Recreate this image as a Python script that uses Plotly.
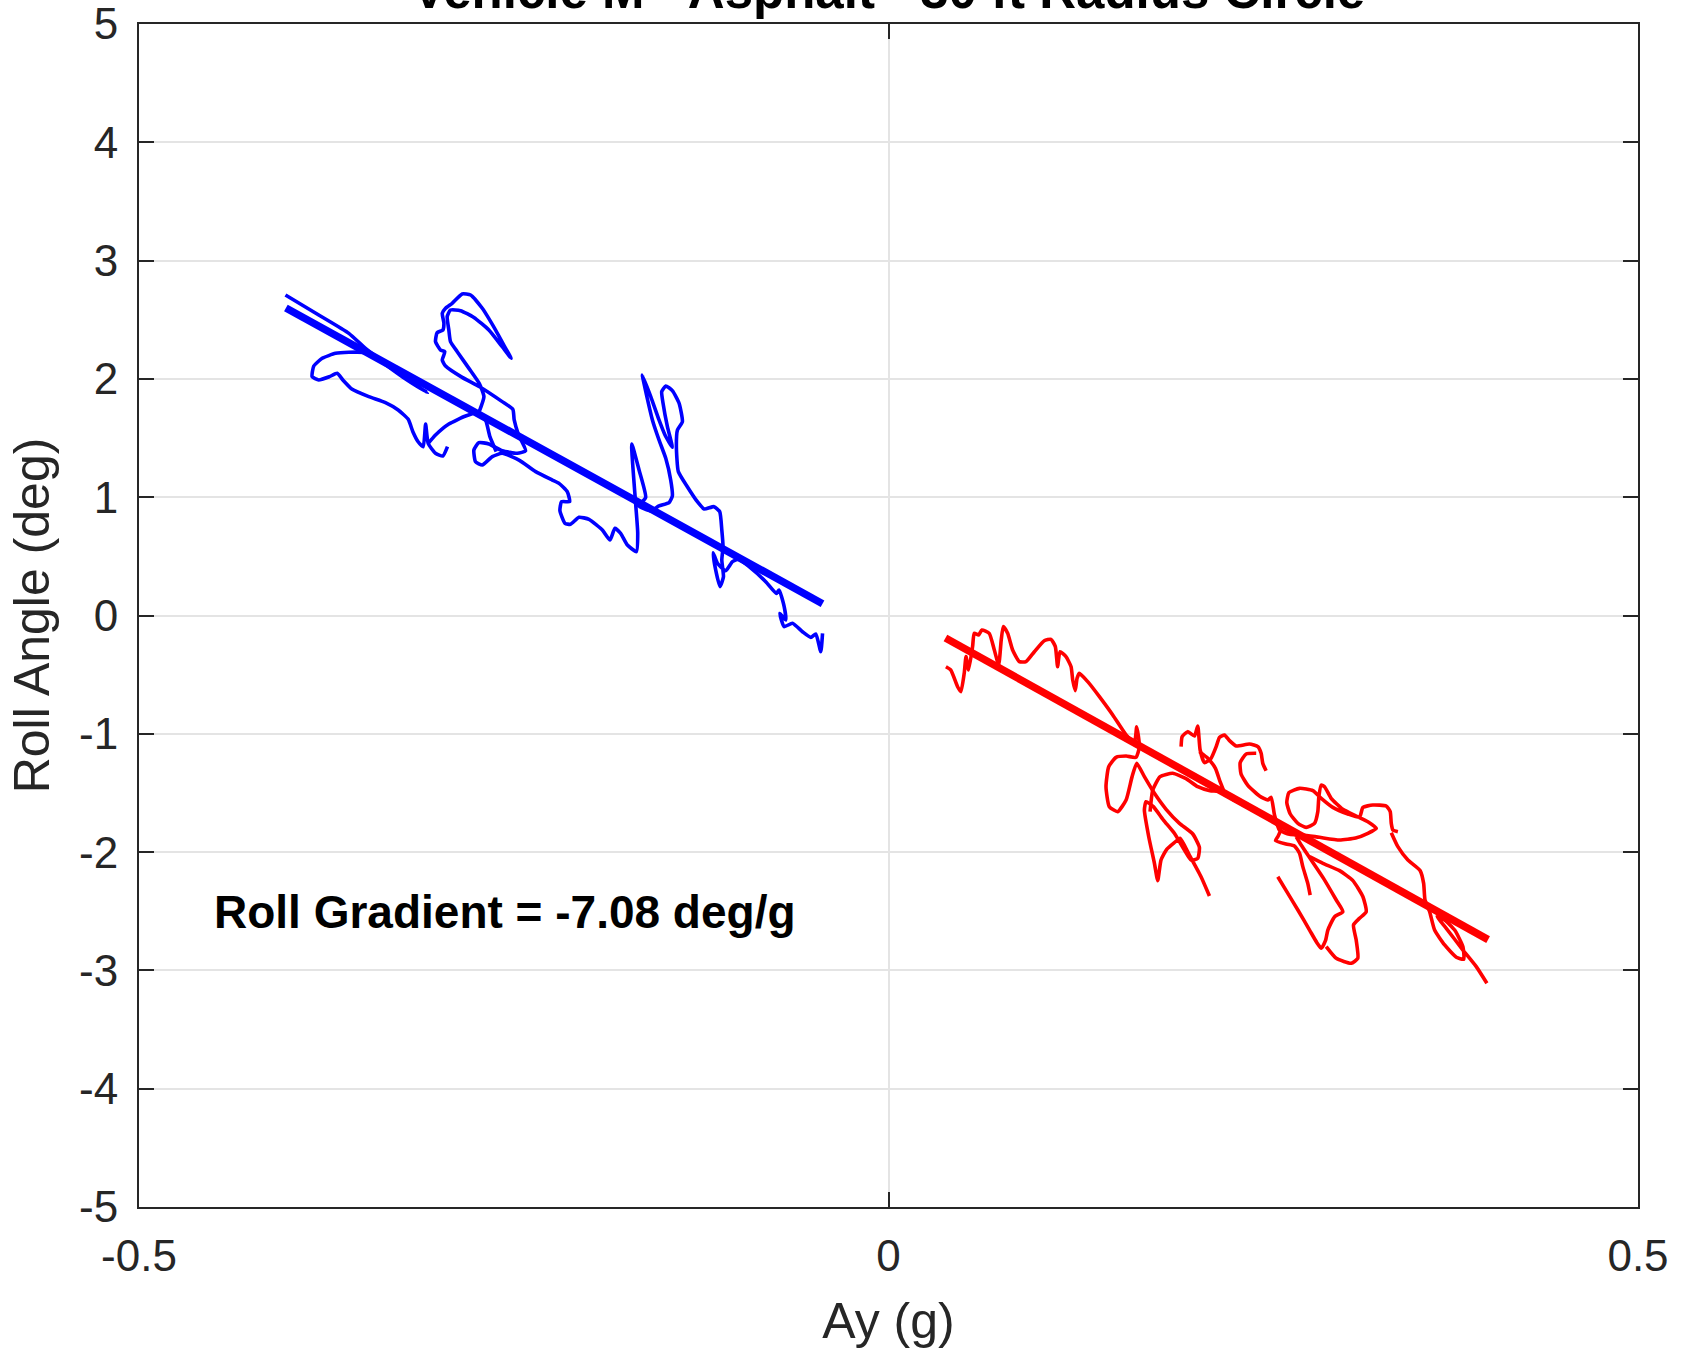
import numpy as np
import plotly.graph_objects as go

nan = np.nan

# ---------------- data ----------------
title_text = "Vehicle M - Asphalt - 30 ft Radius Circle"
x_label = "Ay (g)"
y_label = "Roll Angle (deg)"
gradient_text = "Roll Gradient = -7.08 deg/g"

x_tickvals = [-0.5, 0, 0.5]
x_ticktext = ["-0.5", "0", "0.5"]
y_tickvals = [5, 4, 3, 2, 1, 0, -1, -2, -3, -4, -5]
y_ticktext = ["5", "4", "3", "2", "1", "0", "-1", "-2", "-3", "-4", "-5"]

# left turn (negative Ay) measured trace
blue_ay = [
    -0.4023, -0.3801, -0.3600, -0.3489, -0.3356, -0.3200, -0.3075, -0.3244, -0.3400, -0.3489,
    -0.3600, -0.3689, -0.3778, -0.3834, -0.3845, -0.3801, -0.3729, -0.3678, -0.3640, -0.3578,
    -0.3467, -0.3356, -0.3271, -0.3204, -0.3173, -0.3138, -0.3104, -0.3088, -0.3071, -0.3022,
    -0.2973, -0.2942, nan,
    -0.3071, -0.3022, -0.2933, -0.2821, -0.2733, -0.2688, -0.2659, -0.2617, nan,
    -0.2733, -0.2699, -0.2728, -0.2799, -0.2877, -0.2922, -0.2933, -0.2944, -0.2922, -0.2855,
    -0.2766, -0.2666, -0.2577, -0.2517, -0.2554, -0.2621, -0.2710, -0.2788, -0.2844, -0.2911,
    -0.2955, -0.2977, -0.2966, -0.2973, -0.3011, -0.3022, -0.2988, -0.2960, -0.2977, -0.2955,
    -0.2844, -0.2728, -0.2577, -0.2506, -0.2497, -0.2470, -0.2421, -0.2477, -0.2577, -0.2666,
    -0.2733, -0.2766, -0.2755, -0.2710, -0.2643, -0.2577, -0.2465, -0.2354, -0.2243, -0.2198,
    -0.2143, -0.2127, -0.2181, -0.2192, -0.2158, -0.2121, -0.2065, -0.1998, -0.1909, -0.1858,
    -0.1825, -0.1787, -0.1742, -0.1682, -0.1673, -0.1687, -0.1713, -0.1664, -0.1620, -0.1664,
    -0.1586, -0.1531, -0.1464, -0.1442, -0.1453, -0.1486, -0.1531, -0.1575, -0.1642, -0.1586,
    -0.1531, -0.1491, -0.1442, -0.1475, -0.1504, -0.1513, -0.1486, -0.1442, -0.1397, -0.1375,
    -0.1408, -0.1415, -0.1402, -0.1342, -0.1275, -0.1230, -0.1164, -0.1126, -0.1112, -0.1104,
    -0.1112, -0.1101, -0.1124, -0.1153, -0.1170, -0.1141, -0.1086, -0.1041, -0.1001, -0.0930,
    -0.0819, -0.0748, -0.0730, -0.0696, -0.0685, -0.0725, -0.0696, -0.0641, -0.0574, -0.0518,
    -0.0485, -0.0452, -0.0440,
]
blue_roll = [
    2.709, 2.540, 2.385, 2.258, 2.132, 1.996, 1.884, 2.019, 2.160, 2.222,
    2.225, 2.216, 2.174, 2.109, 2.019, 1.991, 2.019, 2.047, 1.991, 1.912,
    1.850, 1.799, 1.737, 1.658, 1.554, 1.469, 1.427, 1.619, 1.455, 1.371,
    1.348, 1.427, nan,
    1.455, 1.526, 1.619, 1.686, 1.715, 1.653, 1.512, 1.385, nan,
    1.715, 1.850, 1.957, 2.089, 2.230, 2.315, 2.413, 2.526, 2.582, 2.577,
    2.520, 2.413, 2.272, 2.174, 2.258, 2.413, 2.597, 2.709, 2.718, 2.639,
    2.597, 2.554, 2.470, 2.413, 2.391, 2.315, 2.244, 2.230, 2.160, 2.109,
    2.013, 1.934, 1.808, 1.743, 1.653, 1.534, 1.393, 1.371, 1.393, 1.450,
    1.461, 1.399, 1.300, 1.272, 1.343, 1.371, 1.314, 1.216, 1.145, 1.117,
    1.047, 0.962, 0.962, 0.886, 0.779, 0.771, 0.830, 0.813, 0.723, 0.638,
    0.737, 0.695, 0.596, 0.540, 0.695, 0.948, 1.450, 1.230, 0.999, 0.926,
    0.886, 0.926, 0.954, 1.010, 1.145, 1.329, 1.484, 1.653, 2.033, 1.850,
    1.653, 1.526, 1.422, 1.596, 1.794, 1.892, 1.940, 1.901, 1.794, 1.638,
    1.568, 1.427, 1.216, 1.089, 0.962, 0.900, 0.920, 0.878, 0.723, 0.582,
    0.469, 0.328, 0.244, 0.385, 0.531, 0.441, 0.379, 0.455, 0.475, 0.413,
    0.286, 0.187, 0.216, 0.075, -0.038, 0.018, -0.094, -0.066, -0.137, -0.185,
    -0.156, -0.306, -0.151,
]

# right turn (positive Ay) measured trace
red_ay = [
    0.0383, 0.0416, 0.0461, 0.0483, 0.0505, 0.0517, 0.0534, 0.0561, 0.0572, 0.0601,
    0.0623, 0.0672, 0.0706, 0.0735, 0.0752, 0.0766, 0.0795, 0.0828, 0.0873, 0.0917,
    0.0973, 0.1039, 0.1084, 0.1113, 0.1128, 0.1144, 0.1184, 0.1218, 0.1229, 0.1246,
    0.1258, 0.1273, 0.1329, 0.1407, 0.1496, 0.1585, 0.1640, 0.1656, 0.1674, 0.1651,
    0.1585, 0.1518, 0.1469, 0.1451, 0.1473, 0.1529, 0.1585, 0.1625, 0.1656, 0.1707,
    0.1774, 0.1852, 0.1941, 0.2030, 0.2074, 0.2063, 0.2019, 0.1974, 0.1907, 0.1834,
    0.1767, 0.1718, 0.1707, 0.1736, 0.1774, 0.1796, 0.1818, 0.1856, 0.1907, 0.1945,
    0.2007, 0.2085, 0.2141, nan,
    0.1745, 0.1763, 0.1812, 0.1896, 0.1985, 0.2063, 0.2145, 0.2208, 0.2297, 0.2430,
    0.2553, 0.2619, 0.2597, 0.2582, 0.2653, 0.2708, 0.2742, 0.2764, 0.2797, 0.2813, nan,
    0.1952, 0.1959, 0.1996, 0.2041, 0.2063, 0.2079, 0.2108, 0.2152, 0.2186, 0.2208,
    0.2241, 0.2275, 0.2319, 0.2408, 0.2464, 0.2486, 0.2497, 0.2519, nan,
    0.2074, 0.2130, 0.2181, 0.2212, 0.2234, nan,
    0.2453, 0.2386, 0.2346, 0.2352, 0.2397, 0.2475, 0.2530, 0.2553, 0.2575, 0.2608,
    0.2675, 0.2764, 0.2875, 0.3009, 0.3116, 0.3198, 0.3254, 0.3198, 0.3120, 0.3031,
    0.2953, 0.2909, 0.2887, 0.2871, 0.2864, 0.2842, 0.2786, 0.2731, 0.2680, 0.2657,
    0.2671, 0.2742, 0.2831, 0.2887, 0.2964, 0.3065, 0.3142, 0.3165, 0.3231, 0.3320,
    0.3347, 0.3354, 0.3365, 0.3398, nan,
    0.3354, 0.3398, 0.3465, 0.3547, 0.3570, 0.3579, 0.3610, 0.3643, 0.3710, 0.3788,
    0.3837, 0.3832, 0.3777, 0.3710, 0.3659, 0.3721, 0.3832, 0.3921, 0.3992, nan,
    0.2597, 0.2657, 0.2731, 0.2809, 0.2858, 0.2887, 0.2915, 0.2931, 0.2976, 0.3031,
    0.2987, 0.2902, 0.2820, 0.2753, 0.2720, nan,
    0.2809, 0.2898, 0.3009, 0.3098, 0.3165, 0.3187, 0.3142, 0.3102, 0.3120, 0.3131,
    0.3087, 0.2987, 0.2920,
]
red_roll = [
    -0.433, -0.461, -0.602, -0.644, -0.489, -0.348, -0.461, -0.263, -0.151, -0.165,
    -0.123, -0.151, -0.292, -0.418, -0.207, -0.094, -0.151, -0.292, -0.390, -0.390,
    -0.306, -0.213, -0.201, -0.263, -0.433, -0.306, -0.348, -0.433, -0.545, -0.635,
    -0.531, -0.489, -0.559, -0.686, -0.841, -1.010, -1.081, -0.940, -1.109, -1.199,
    -1.188, -1.199, -1.278, -1.447, -1.616, -1.658, -1.560, -1.362, -1.250, -1.362,
    -1.503, -1.638, -1.757, -1.847, -1.960, -2.053, -2.067, -1.982, -1.841, -1.729,
    -1.616, -1.574, -1.644, -1.870, -2.095, -2.241, -2.067, -1.977, -1.920, -1.884,
    -2.025, -2.208, -2.371, nan,
    -1.658, -1.475, -1.362, -1.334, -1.379, -1.447, -1.481, -1.489, -1.554, -1.644,
    -1.729, -1.799, -1.870, -1.903, -1.932, -1.948, -2.010, -2.123, -2.264, -2.363, nan,
    -1.109, -1.024, -0.982, -1.019, -0.934, -1.137, -1.244, -1.207, -1.109, -1.030,
    -1.010, -1.058, -1.103, -1.086, -1.109, -1.165, -1.250, -1.312, nan,
    -1.151, -1.207, -1.292, -1.405, -1.475, nan,
    -1.165, -1.171, -1.244, -1.340, -1.436, -1.526, -1.560, -1.537, -1.686, -1.813,
    -1.850, -1.855, -1.875, -1.898, -1.881, -1.841, -1.799, -1.743, -1.695, -1.638,
    -1.545, -1.447, -1.433, -1.531, -1.658, -1.757, -1.791, -1.757, -1.678, -1.582,
    -1.498, -1.461, -1.481, -1.545, -1.622, -1.678, -1.706, -1.622, -1.602, -1.610,
    -1.658, -1.757, -1.813, -1.827, nan,
    -1.836, -1.954, -2.067, -2.157, -2.264, -2.405, -2.504, -2.659, -2.785, -2.889,
    -2.906, -2.799, -2.659, -2.574, -2.546, -2.644, -2.828, -2.968, -3.109, nan,
    -2.208, -2.334, -2.489, -2.659, -2.766, -2.813, -2.749, -2.659, -2.546, -2.504,
    -2.405, -2.222, -2.067, -1.940, -1.870, nan,
    -2.039, -2.095, -2.157, -2.241, -2.377, -2.504, -2.560, -2.616, -2.743, -2.898,
    -2.940, -2.898, -2.799,
]

# linear fits
blue_fit_ay = [-0.402, -0.044]
blue_fit_roll = [2.60, 0.10]
red_fit_ay = [0.038, 0.400]
red_fit_roll = [-0.19, -2.74]

gradient_pos = (-0.451, -2.51)

# ---------------- figure ----------------
FONT = "Liberation Sans, Arial, Helvetica, sans-serif"
AX = "#262626"

fig = go.Figure()
fig.add_trace(go.Scatter(x=blue_ay, y=blue_roll, mode="lines",
                         line=dict(color="#0000FF", width=3.6, shape="spline", smoothing=0.5),
                         connectgaps=False, hoverinfo="skip"))
fig.add_trace(go.Scatter(x=red_ay, y=red_roll, mode="lines",
                         line=dict(color="#FF0000", width=3.6, shape="spline", smoothing=0.5),
                         connectgaps=False, hoverinfo="skip"))
fig.add_trace(go.Scatter(x=blue_fit_ay, y=blue_fit_roll, mode="lines",
                         line=dict(color="#0000FF", width=7.5)))
fig.add_trace(go.Scatter(x=red_fit_ay, y=red_fit_roll, mode="lines",
                         line=dict(color="#FF0000", width=7.5)))

axis_common = dict(
    showgrid=True, gridcolor="#e4e4e4", gridwidth=1.5,
    zeroline=False,
    showline=True, linecolor=AX, linewidth=2, mirror="ticks",
    ticks="inside", ticklen=15, tickwidth=1.5, tickcolor=AX,
    tickfont=dict(family=FONT, size=44, color=AX),
    ticklabeloverflow="allow",
    automargin=False,
)

fig.update_layout(
    width=1686, height=1354,
    margin=dict(l=139, r=48, t=24, b=147),
    paper_bgcolor="white", plot_bgcolor="white",
    showlegend=False,
    xaxis=dict(range=[-0.5, 0.5], tickmode="array", tickvals=x_tickvals, ticktext=x_ticktext,
               ticklabelstandoff=9,
               title=dict(text=x_label, font=dict(family=FONT, size=50, color=AX), standoff=24),
               **axis_common),
    yaxis=dict(range=[-5, 5], tickmode="array", tickvals=y_tickvals, ticktext=y_ticktext,
               ticklabelstandoff=10,
               title=dict(text=y_label, font=dict(family=FONT, size=50, color=AX), standoff=14),
               **axis_common),
    annotations=[
        dict(text=gradient_text, x=gradient_pos[0], y=gradient_pos[1], xref="x", yref="y",
             xanchor="left", yanchor="middle", showarrow=False,
             font=dict(family=FONT, size=46, color="black", weight="bold")),
        dict(text=title_text, x=0.5, y=1.0283, xref="paper", yref="paper",
             xanchor="center", yanchor="middle", showarrow=False,
             font=dict(family=FONT, size=51, color="black", weight="bold")),
    ],
)

fig.write_html("out.html")
